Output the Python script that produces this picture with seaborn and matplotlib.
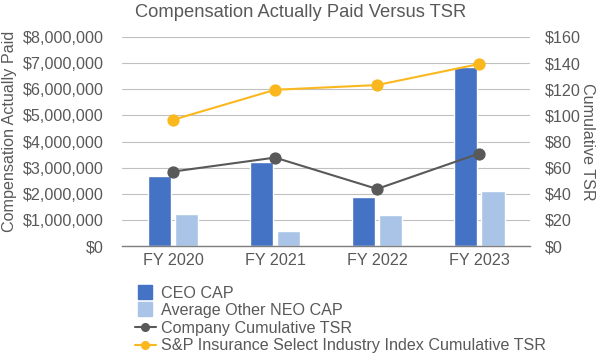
import matplotlib
matplotlib.use("Agg")
import matplotlib.pyplot as plt
import seaborn as sns
import pandas as pd
from matplotlib.ticker import FuncFormatter
from matplotlib.lines import Line2D

years = ["FY 2020", "FY 2021", "FY 2022", "FY 2023"]
ceo_cap = [2680000, 3230000, 1870000, 6850000]
neo_cap = [1230000, 560000, 1200000, 2100000]
company_tsr = [57.0, 67.7, 43.7, 70.8]
sp_tsr = [96.6, 119.6, 123.2, 139.3]

series_names = ["CEO CAP", "Average Other NEO CAP",
                "Company Cumulative TSR",
                "S&P Insurance Select Industry Index Cumulative TSR"]
c_ceo, c_neo, c_co, c_sp = "#4472c4", "#a9c4e6", "#595959", "#fbb81e"
txt = "#595959"
fs = 11.6

sns.set_theme(style="white")
plt.rcParams["font.family"] = ["Liberation Sans", "DejaVu Sans"]

bars = pd.DataFrame({
    "year": years * 2,
    "value": ceo_cap + neo_cap,
    "series": [series_names[0]] * 4 + [series_names[1]] * 4,
})
lines = pd.DataFrame({"year": years, "co": company_tsr, "sp": sp_tsr})

fig = plt.figure(figsize=(5.99, 3.54), dpi=100)
ax = fig.add_axes([0.2037, 0.305, 0.6813, 0.5905])

sns.barplot(data=bars, x="year", y="value", hue="series",
            palette=[c_ceo, c_neo], width=0.53, gap=0.12,
            dodge=True, ax=ax, legend=False, saturation=1)
ax.set_ylim(0, 8000000)
ax.set_yticks(range(0, 8000001, 1000000))
ax.yaxis.set_major_formatter(FuncFormatter(lambda v, p: f"${v:,.0f}"))
ax.grid(axis="y", color="#c0c0c0", linewidth=0.8)
ax.set_axisbelow(True)
for s in ["top", "left", "right"]:
    ax.spines[s].set_visible(False)
ax.spines["bottom"].set_color("#7f7f7f")
ax.spines["bottom"].set_linewidth(1.0)
ax.set_xlabel("")
ax.set_ylabel("Compensation Actually Paid", fontsize=fs, color=txt, labelpad=4)
ax.yaxis.label.set_y(0.55)
ax.tick_params(axis="y", length=0, labelsize=fs, labelcolor=txt, pad=13)
ax.tick_params(axis="x", length=0, labelsize=fs, labelcolor=txt, pad=5)

ax2 = ax.twinx()
sns.pointplot(data=lines, x="year", y="sp", color=c_sp, ax=ax2,
              markers="o", markersize=7.7, linewidth=1.5)
sns.pointplot(data=lines, x="year", y="co", color=c_co, ax=ax2,
              markers="o", markersize=7.7, linewidth=1.5)
ax2.set_ylim(0, 160)
ax2.set_yticks(range(0, 161, 20))
ax2.yaxis.set_major_formatter(FuncFormatter(lambda v, p: f"${v:.0f}"))
for s in ["top", "left", "right", "bottom"]:
    ax2.spines[s].set_visible(False)
ax2.set_xlabel("")
ax2.set_ylabel("Cumulative TSR", fontsize=fs, color=txt, rotation=270, labelpad=10)
ax2.tick_params(axis="y", length=0, labelsize=fs, labelcolor=txt, pad=10.8)
ax2.set_xlim(-0.5, 3.5)
ax.set_xlim(-0.5, 3.5)

fig.text(0.502, 0.966, "Compensation Actually Paid Versus TSR", ha="center",
         va="center", fontsize=13.2, color=txt)

handles = [
    Line2D([], [], color=c_ceo, marker="s", markersize=9.5, linestyle="none"),
    Line2D([], [], color=c_neo, marker="s", markersize=9.5, linestyle="none"),
    Line2D([], [], color=c_co, marker="o", markersize=5.5, linewidth=1.5),
    Line2D([], [], color=c_sp, marker="o", markersize=5.5, linewidth=1.5),
]
leg = fig.legend(handles, series_names, loc="upper left",
                 bbox_to_anchor=(0.2254, 0.193), frameon=False, fontsize=fs,
                 labelspacing=0.16, handlelength=1.3, handletextpad=0.3,
                 borderpad=0, borderaxespad=0, handleheight=0.8)
for t in leg.get_texts():
    t.set_color(txt)

fig.savefig("out.png", dpi=100)
